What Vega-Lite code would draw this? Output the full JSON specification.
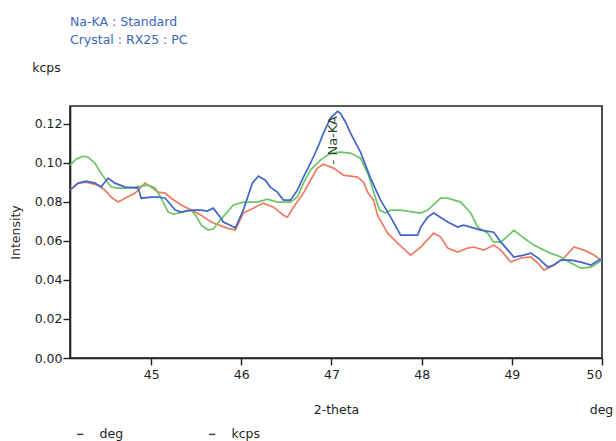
{
  "$schema": "https://vega.github.io/schema/vega-lite/v6.json",
  "width": 532,
  "height": 252,
  "autosize": "none",
  "padding": {"left": 70, "top": 106, "right": 14, "bottom": 83},
  "background": "white",
  "config": {
    "font": "DejaVu Sans",
    "view": {"stroke": "#222222", "strokeWidth": 1.6},
    "axis": {"labelFont": "DejaVu Sans", "titleFont": "DejaVu Sans", "labelColor": "#1e1e1e", "titleColor": "#1e1e1e", "domainColor": "#222222", "tickColor": "#222222", "domainWidth": 1.6, "tickWidth": 1.4, "titleFontWeight": "normal", "labelFontSize": 12.5, "titleFontSize": 12.5}
  },
  "title": {
    "text": ["Na-KA : Standard", "Crystal : RX25 : PC"],
    "anchor": "start",
    "frame": "group",
    "orient": "top",
    "offset": 15,
    "dx": 0,
    "fontSize": 12.5,
    "fontWeight": "normal",
    "font": "DejaVu Sans",
    "color": "#3a67c0",
    "lineHeight": 18,
    "baseline": "top"
  },
  "resolve": {
    "scale": {"x": "independent", "y": "independent"},
    "axis": {"x": "independent", "y": "independent"}
  },
  "layer": [
    {
      "data": {
        "values": [
          {"series": "red", "deg": 44.100, "kcps": 0.0859},
          {"series": "red", "deg": 44.189, "kcps": 0.0895},
          {"series": "red", "deg": 44.278, "kcps": 0.0900},
          {"series": "red", "deg": 44.411, "kcps": 0.0885},
          {"series": "red", "deg": 44.489, "kcps": 0.0859},
          {"series": "red", "deg": 44.556, "kcps": 0.0824},
          {"series": "red", "deg": 44.633, "kcps": 0.0798},
          {"series": "red", "deg": 44.711, "kcps": 0.0818},
          {"series": "red", "deg": 44.822, "kcps": 0.0844},
          {"series": "red", "deg": 44.933, "kcps": 0.0895},
          {"series": "red", "deg": 45.000, "kcps": 0.0875},
          {"series": "red", "deg": 45.078, "kcps": 0.0849},
          {"series": "red", "deg": 45.156, "kcps": 0.0844},
          {"series": "red", "deg": 45.222, "kcps": 0.0818},
          {"series": "red", "deg": 45.333, "kcps": 0.0783},
          {"series": "red", "deg": 45.444, "kcps": 0.0757},
          {"series": "red", "deg": 45.556, "kcps": 0.0731},
          {"series": "red", "deg": 45.633, "kcps": 0.0706},
          {"series": "red", "deg": 45.689, "kcps": 0.0691},
          {"series": "red", "deg": 45.844, "kcps": 0.0665},
          {"series": "red", "deg": 45.933, "kcps": 0.0655},
          {"series": "red", "deg": 46.022, "kcps": 0.0742},
          {"series": "red", "deg": 46.133, "kcps": 0.0767},
          {"series": "red", "deg": 46.244, "kcps": 0.0793},
          {"series": "red", "deg": 46.356, "kcps": 0.0772},
          {"series": "red", "deg": 46.467, "kcps": 0.0731},
          {"series": "red", "deg": 46.511, "kcps": 0.0721},
          {"series": "red", "deg": 46.578, "kcps": 0.0772},
          {"series": "red", "deg": 46.689, "kcps": 0.0844},
          {"series": "red", "deg": 46.767, "kcps": 0.0910},
          {"series": "red", "deg": 46.844, "kcps": 0.0972},
          {"series": "red", "deg": 46.911, "kcps": 0.0992},
          {"series": "red", "deg": 47.022, "kcps": 0.0972},
          {"series": "red", "deg": 47.133, "kcps": 0.0936},
          {"series": "red", "deg": 47.289, "kcps": 0.0926},
          {"series": "red", "deg": 47.356, "kcps": 0.0900},
          {"series": "red", "deg": 47.400, "kcps": 0.0849},
          {"series": "red", "deg": 47.467, "kcps": 0.0808},
          {"series": "red", "deg": 47.511, "kcps": 0.0731},
          {"series": "red", "deg": 47.622, "kcps": 0.0639},
          {"series": "red", "deg": 47.733, "kcps": 0.0588},
          {"series": "red", "deg": 47.878, "kcps": 0.0527},
          {"series": "red", "deg": 47.989, "kcps": 0.0568},
          {"series": "red", "deg": 48.133, "kcps": 0.0639},
          {"series": "red", "deg": 48.211, "kcps": 0.0619},
          {"series": "red", "deg": 48.289, "kcps": 0.0563},
          {"series": "red", "deg": 48.400, "kcps": 0.0542},
          {"series": "red", "deg": 48.511, "kcps": 0.0563},
          {"series": "red", "deg": 48.578, "kcps": 0.0568},
          {"series": "red", "deg": 48.689, "kcps": 0.0552},
          {"series": "red", "deg": 48.800, "kcps": 0.0578},
          {"series": "red", "deg": 48.878, "kcps": 0.0552},
          {"series": "red", "deg": 48.989, "kcps": 0.0491},
          {"series": "red", "deg": 49.100, "kcps": 0.0512},
          {"series": "red", "deg": 49.211, "kcps": 0.0517},
          {"series": "red", "deg": 49.289, "kcps": 0.0486},
          {"series": "red", "deg": 49.356, "kcps": 0.0450},
          {"series": "red", "deg": 49.467, "kcps": 0.0476},
          {"series": "red", "deg": 49.578, "kcps": 0.0512},
          {"series": "red", "deg": 49.689, "kcps": 0.0568},
          {"series": "red", "deg": 49.800, "kcps": 0.0552},
          {"series": "red", "deg": 49.911, "kcps": 0.0527},
          {"series": "red", "deg": 49.989, "kcps": 0.0501},
          {"series": "green", "deg": 44.100, "kcps": 0.0987},
          {"series": "green", "deg": 44.167, "kcps": 0.1018},
          {"series": "green", "deg": 44.244, "kcps": 0.1033},
          {"series": "green", "deg": 44.300, "kcps": 0.1028},
          {"series": "green", "deg": 44.378, "kcps": 0.0997},
          {"series": "green", "deg": 44.444, "kcps": 0.0946},
          {"series": "green", "deg": 44.500, "kcps": 0.0910},
          {"series": "green", "deg": 44.556, "kcps": 0.0875},
          {"series": "green", "deg": 44.633, "kcps": 0.0870},
          {"series": "green", "deg": 44.722, "kcps": 0.0870},
          {"series": "green", "deg": 44.822, "kcps": 0.0875},
          {"series": "green", "deg": 44.967, "kcps": 0.0885},
          {"series": "green", "deg": 45.044, "kcps": 0.0870},
          {"series": "green", "deg": 45.111, "kcps": 0.0818},
          {"series": "green", "deg": 45.189, "kcps": 0.0747},
          {"series": "green", "deg": 45.244, "kcps": 0.0737},
          {"series": "green", "deg": 45.300, "kcps": 0.0742},
          {"series": "green", "deg": 45.378, "kcps": 0.0752},
          {"series": "green", "deg": 45.444, "kcps": 0.0757},
          {"series": "green", "deg": 45.500, "kcps": 0.0726},
          {"series": "green", "deg": 45.556, "kcps": 0.0680},
          {"series": "green", "deg": 45.633, "kcps": 0.0655},
          {"series": "green", "deg": 45.689, "kcps": 0.0660},
          {"series": "green", "deg": 45.767, "kcps": 0.0706},
          {"series": "green", "deg": 45.844, "kcps": 0.0747},
          {"series": "green", "deg": 45.911, "kcps": 0.0783},
          {"series": "green", "deg": 46.022, "kcps": 0.0798},
          {"series": "green", "deg": 46.178, "kcps": 0.0798},
          {"series": "green", "deg": 46.289, "kcps": 0.0813},
          {"series": "green", "deg": 46.400, "kcps": 0.0798},
          {"series": "green", "deg": 46.544, "kcps": 0.0798},
          {"series": "green", "deg": 46.622, "kcps": 0.0824},
          {"series": "green", "deg": 46.689, "kcps": 0.0895},
          {"series": "green", "deg": 46.767, "kcps": 0.0962},
          {"series": "green", "deg": 46.878, "kcps": 0.1013},
          {"series": "green", "deg": 46.989, "kcps": 0.1049},
          {"series": "green", "deg": 47.100, "kcps": 0.1054},
          {"series": "green", "deg": 47.211, "kcps": 0.1049},
          {"series": "green", "deg": 47.322, "kcps": 0.1023},
          {"series": "green", "deg": 47.411, "kcps": 0.0936},
          {"series": "green", "deg": 47.478, "kcps": 0.0834},
          {"series": "green", "deg": 47.533, "kcps": 0.0757},
          {"series": "green", "deg": 47.600, "kcps": 0.0742},
          {"series": "green", "deg": 47.656, "kcps": 0.0757},
          {"series": "green", "deg": 47.767, "kcps": 0.0757},
          {"series": "green", "deg": 47.911, "kcps": 0.0747},
          {"series": "green", "deg": 47.989, "kcps": 0.0742},
          {"series": "green", "deg": 48.067, "kcps": 0.0757},
          {"series": "green", "deg": 48.211, "kcps": 0.0818},
          {"series": "green", "deg": 48.289, "kcps": 0.0818},
          {"series": "green", "deg": 48.433, "kcps": 0.0798},
          {"series": "green", "deg": 48.544, "kcps": 0.0742},
          {"series": "green", "deg": 48.622, "kcps": 0.0670},
          {"series": "green", "deg": 48.733, "kcps": 0.0639},
          {"series": "green", "deg": 48.800, "kcps": 0.0593},
          {"series": "green", "deg": 48.878, "kcps": 0.0593},
          {"series": "green", "deg": 48.989, "kcps": 0.0639},
          {"series": "green", "deg": 49.022, "kcps": 0.0655},
          {"series": "green", "deg": 49.133, "kcps": 0.0614},
          {"series": "green", "deg": 49.244, "kcps": 0.0578},
          {"series": "green", "deg": 49.400, "kcps": 0.0542},
          {"series": "green", "deg": 49.544, "kcps": 0.0517},
          {"series": "green", "deg": 49.656, "kcps": 0.0486},
          {"series": "green", "deg": 49.767, "kcps": 0.0460},
          {"series": "green", "deg": 49.878, "kcps": 0.0465},
          {"series": "green", "deg": 49.967, "kcps": 0.0491},
          {"series": "green", "deg": 50.000, "kcps": 0.0506},
          {"series": "blue", "deg": 44.100, "kcps": 0.0859},
          {"series": "blue", "deg": 44.189, "kcps": 0.0895},
          {"series": "blue", "deg": 44.278, "kcps": 0.0905},
          {"series": "blue", "deg": 44.378, "kcps": 0.0895},
          {"series": "blue", "deg": 44.444, "kcps": 0.0875},
          {"series": "blue", "deg": 44.522, "kcps": 0.0921},
          {"series": "blue", "deg": 44.600, "kcps": 0.0895},
          {"series": "blue", "deg": 44.711, "kcps": 0.0875},
          {"series": "blue", "deg": 44.856, "kcps": 0.0870},
          {"series": "blue", "deg": 44.889, "kcps": 0.0818},
          {"series": "blue", "deg": 45.000, "kcps": 0.0824},
          {"series": "blue", "deg": 45.078, "kcps": 0.0824},
          {"series": "blue", "deg": 45.156, "kcps": 0.0818},
          {"series": "blue", "deg": 45.267, "kcps": 0.0757},
          {"series": "blue", "deg": 45.333, "kcps": 0.0747},
          {"series": "blue", "deg": 45.444, "kcps": 0.0757},
          {"series": "blue", "deg": 45.556, "kcps": 0.0757},
          {"series": "blue", "deg": 45.622, "kcps": 0.0752},
          {"series": "blue", "deg": 45.689, "kcps": 0.0767},
          {"series": "blue", "deg": 45.767, "kcps": 0.0721},
          {"series": "blue", "deg": 45.800, "kcps": 0.0696},
          {"series": "blue", "deg": 45.878, "kcps": 0.0680},
          {"series": "blue", "deg": 45.933, "kcps": 0.0665},
          {"series": "blue", "deg": 46.022, "kcps": 0.0757},
          {"series": "blue", "deg": 46.122, "kcps": 0.0895},
          {"series": "blue", "deg": 46.189, "kcps": 0.0931},
          {"series": "blue", "deg": 46.267, "kcps": 0.0910},
          {"series": "blue", "deg": 46.322, "kcps": 0.0875},
          {"series": "blue", "deg": 46.400, "kcps": 0.0849},
          {"series": "blue", "deg": 46.467, "kcps": 0.0808},
          {"series": "blue", "deg": 46.544, "kcps": 0.0808},
          {"series": "blue", "deg": 46.622, "kcps": 0.0859},
          {"series": "blue", "deg": 46.689, "kcps": 0.0926},
          {"series": "blue", "deg": 46.767, "kcps": 0.0997},
          {"series": "blue", "deg": 46.844, "kcps": 0.1074},
          {"series": "blue", "deg": 46.911, "kcps": 0.1151},
          {"series": "blue", "deg": 46.989, "kcps": 0.1228},
          {"series": "blue", "deg": 47.067, "kcps": 0.1263},
          {"series": "blue", "deg": 47.100, "kcps": 0.1253},
          {"series": "blue", "deg": 47.156, "kcps": 0.1207},
          {"series": "blue", "deg": 47.211, "kcps": 0.1151},
          {"series": "blue", "deg": 47.322, "kcps": 0.1054},
          {"series": "blue", "deg": 47.433, "kcps": 0.0921},
          {"series": "blue", "deg": 47.544, "kcps": 0.0808},
          {"series": "blue", "deg": 47.656, "kcps": 0.0721},
          {"series": "blue", "deg": 47.767, "kcps": 0.0629},
          {"series": "blue", "deg": 47.956, "kcps": 0.0629},
          {"series": "blue", "deg": 47.989, "kcps": 0.0670},
          {"series": "blue", "deg": 48.067, "kcps": 0.0721},
          {"series": "blue", "deg": 48.133, "kcps": 0.0742},
          {"series": "blue", "deg": 48.289, "kcps": 0.0696},
          {"series": "blue", "deg": 48.400, "kcps": 0.0670},
          {"series": "blue", "deg": 48.467, "kcps": 0.0680},
          {"series": "blue", "deg": 48.544, "kcps": 0.0670},
          {"series": "blue", "deg": 48.656, "kcps": 0.0655},
          {"series": "blue", "deg": 48.800, "kcps": 0.0644},
          {"series": "blue", "deg": 48.878, "kcps": 0.0593},
          {"series": "blue", "deg": 48.956, "kcps": 0.0552},
          {"series": "blue", "deg": 49.022, "kcps": 0.0517},
          {"series": "blue", "deg": 49.133, "kcps": 0.0527},
          {"series": "blue", "deg": 49.211, "kcps": 0.0537},
          {"series": "blue", "deg": 49.289, "kcps": 0.0512},
          {"series": "blue", "deg": 49.400, "kcps": 0.0465},
          {"series": "blue", "deg": 49.467, "kcps": 0.0476},
          {"series": "blue", "deg": 49.544, "kcps": 0.0501},
          {"series": "blue", "deg": 49.656, "kcps": 0.0501},
          {"series": "blue", "deg": 49.767, "kcps": 0.0491},
          {"series": "blue", "deg": 49.878, "kcps": 0.0476},
          {"series": "blue", "deg": 49.967, "kcps": 0.0501},
          {"series": "blue", "deg": 50.000, "kcps": 0.0506}
        ]
      },
      "mark": {"type": "line", "strokeWidth": 1.7, "clip": true},
      "encoding": {
        "x": {
          "field": "deg", "type": "quantitative",
          "scale": {"domain": [44.1, 50], "nice": false, "zero": false},
          "axis": {"values": [45, 46, 47, 48, 49, 50], "format": "d", "grid": false, "tickSize": 7, "labelPadding": 3, "title": "2-theta", "titleX": 266, "titleY": 51, "titleAlign": "center", "titleBaseline": "middle"}
        },
        "y": {
          "field": "kcps", "type": "quantitative",
          "scale": {"domain": [0, 0.129], "nice": false, "zero": true},
          "axis": {"values": [0, 0.02, 0.04, 0.06, 0.08, 0.1, 0.12], "format": ".2f", "grid": false, "tickSize": 7, "labelPadding": 1, "title": "Intensity", "titleX": -55, "titleY": 126, "titleAngle": 270, "titleAlign": "center", "titleBaseline": "middle"}
        },
        "color": {
          "field": "series", "type": "nominal",
          "scale": {"domain": ["red", "green", "blue"], "range": ["#ef7a5f", "#6ec46a", "#3f66c8"]},
          "legend": null
        }
      }
    },
    {
      "data": {"values": [{"deg": 47.02, "kcps": 0.1115, "label": "-  Na-KA"}]},
      "mark": {"type": "text", "angle": 270, "align": "center", "baseline": "middle", "fontSize": 13, "font": "DejaVu Sans", "color": "#2b4a30"},
      "encoding": {
        "x": {
          "field": "deg", "type": "quantitative",
          "scale": {"domain": [44.1, 50], "nice": false, "zero": false},
          "axis": {"orient": "bottom", "labels": false, "ticks": false, "domain": false, "grid": false, "title": "deg", "titleX": 531, "titleY": 51, "titleAlign": "center", "titleBaseline": "middle"}
        },
        "y": {
          "field": "kcps", "type": "quantitative",
          "scale": {"domain": [0, 0.129], "nice": false, "zero": true},
          "axis": {"orient": "left", "labels": false, "ticks": false, "domain": false, "grid": false, "title": "kcps", "titleAngle": 0, "titleX": -24, "titleY": -39, "titleAlign": "center", "titleBaseline": "middle"}
        },
        "text": {"field": "label"}
      }
    },
    {
      "data": {"values": [{"unit": "deg"}, {"unit": "kcps"}]},
      "mark": {"type": "point", "opacity": 0},
      "encoding": {
        "shape": {
          "field": "unit", "type": "nominal",
          "scale": {"domain": ["deg", "kcps"], "range": ["stroke", "stroke"]},
          "legend": {"title": null, "orient": "none", "direction": "horizontal", "legendX": 4, "legendY": 322, "padding": 0, "symbolType": "stroke", "symbolSize": 40, "symbolStrokeColor": "#444444", "symbolStrokeWidth": 1.5, "symbolOpacity": 1, "labelFont": "DejaVu Sans", "labelFontSize": 12.5, "labelColor": "#1e1e1e", "labelOffset": 13, "columnPadding": 82}
        }
      }
    }
  ]
}
